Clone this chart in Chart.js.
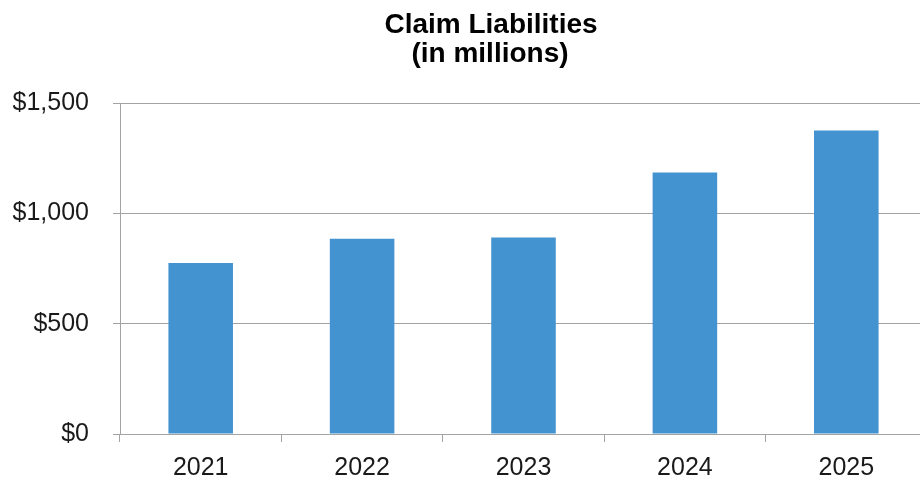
<!DOCTYPE html>
<html>
<head>
<meta charset="utf-8">
<script src="https://cdn.jsdelivr.net/npm/chart.js@4/dist/chart.umd.min.js"></script>
<style>
  html, body { margin: 0; padding: 0; background: #fff; overflow: hidden; }
  .chart-wrap { width: 928px; height: 478px; position: relative; }
</style>
</head>
<body>
<div class="chart-wrap"><canvas id="claims"></canvas></div>
<script>
// Datos del gráfico
const years = ['2021', '2022', '2023', '2024', '2025']
const liabilities = [775, 885, 890, 1185, 1375]
const yTicks = [0, 500, 1000, 1500]
const titleLines = ['Claim Liabilities', '(in millions)']

const fontFamily = '"Liberation Sans", Arial, sans-serif'
const gridColor = '#a3a3a3'

// Título dibujado a mano (centrado un poco a la derecha del lienzo)
const titlePlugin = {
  id: 'twoLineTitle',
  afterDraw(chart) {
    const ctx = chart.ctx
    ctx.save()
    ctx.fillStyle = '#000'
    ctx.font = `bold 28px ${fontFamily}`
    ctx.textAlign = 'center'
    ctx.textBaseline = 'alphabetic'
    ctx.fillText(titleLines[0], 491, 33)
    ctx.fillText(titleLines[1], 490, 62)
    ctx.restore()
  }
}

const canvas = document.getElementById('claims')

new Chart(canvas, {
  type: 'bar',
  data: {
    labels: years,
    datasets: [{
      data: liabilities,
      backgroundColor: '#4393d0',
      borderWidth: 0,
      barPercentage: 0.4,
      categoryPercentage: 1
    }]
  },
  options: {
    responsive: true,
    maintainAspectRatio: false,
    animation: false,
    layout: { padding: { top: 103, right: 1, left: 0, bottom: 0 } },
    plugins: {
      legend: { display: false },
      title: { display: false },
      tooltip: { enabled: false }
    },
    scales: {
      x: {
        afterFit: (scale) => { scale.height = 44 },
        grid: {
          offset: true,
          drawOnChartArea: false,
          drawTicks: true,
          tickLength: 8,
          color: gridColor
        },
        border: { color: gridColor },
        ticks: {
          color: '#1a1a1a',
          padding: 11,
          font: { family: fontFamily, size: 25 }
        }
      },
      y: {
        min: 0,
        max: 1500,
        afterFit: (scale) => { scale.width = 120 },
        afterBuildTicks: (scale) => { scale.ticks = yTicks.map(v => ({ value: v })) },
        grid: {
          color: gridColor,
          tickLength: 7
        },
        border: { color: gridColor },
        ticks: {
          color: '#1a1a1a',
          padding: 24,
          font: { family: fontFamily, size: 25 },
          callback: (v) => '$' + v.toLocaleString('en-US')
        }
      }
    }
  },
  plugins: [titlePlugin]
})
</script>
</body>
</html>
